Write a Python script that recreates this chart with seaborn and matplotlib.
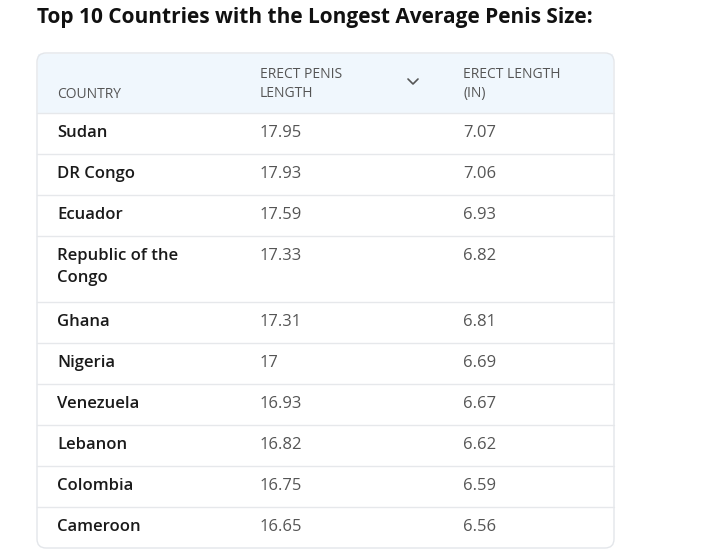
import matplotlib
matplotlib.use("Agg")
import matplotlib.pyplot as plt
import seaborn as sns
from matplotlib.patches import FancyBboxPatch, Rectangle

sns.set_theme(style="white")
plt.rcParams['font.family'] = ['Open Sans', 'DejaVu Sans']

title = "Top 10 Countries with the Longest Average Penis Size:"
headers = ["COUNTRY", "ERECT PENIS\nLENGTH", "ERECT LENGTH\n(IN)"]
countries = ["Sudan", "DR Congo", "Ecuador", "Republic of the\nCongo", "Ghana",
             "Nigeria", "Venezuela", "Lebanon", "Colombia", "Cameroon"]
length_cm = ["17.95", "17.93", "17.59", "17.33", "17.31", "17", "16.93", "16.82", "16.75", "16.65"]
length_in = ["7.07", "7.06", "6.93", "6.82", "6.81", "6.69", "6.67", "6.62", "6.59", "6.56"]

fig = plt.figure(figsize=(7.2, 5.58), dpi=100)
ax = fig.add_axes([0, 0, 1, 1])
ax.set_xlim(0, 720); ax.set_ylim(558, 0); ax.axis("off")

ax.text(37, 18, title, fontsize=15, fontweight="bold", color="#111111", va="center", ha="left")

L, R, T, B = 37, 614, 53, 548
ax.add_patch(Rectangle((L + 1, T + 1), R - L - 2, 60, facecolor="#f0f7fd", edgecolor="none"))
ax.add_patch(FancyBboxPatch((L, T), R - L, B - T, boxstyle="round,pad=0,rounding_size=9",
                            facecolor="none", edgecolor="#e3e6ea", lw=1))
colx = [57, 260, 463]
ax.text(colx[0], 94, headers[0], fontsize=10, color="#555555", va="center")
for i in (1, 2):
    ax.text(colx[i], 84, headers[i], fontsize=10, color="#555555", va="center", linespacing=1.3)
ax.plot([408, 413, 418], [79, 84, 79], color="#555555", lw=1.2)

top = 113
for c, a, b in zip(countries, length_cm, length_in):
    h = 66 if "\n" in c else 41
    ax.plot([L, R], [top, top], color="#e6e8eb", lw=1)
    ax.text(colx[0], top + 12, c, fontsize=12, fontweight="semibold", color="#1a1a1a",
            va="top", linespacing=1.5)
    ax.text(colx[1], top + 12, a, fontsize=12, color="#555555", va="top")
    ax.text(colx[2], top + 12, b, fontsize=12, color="#555555", va="top")
    top += h

fig.savefig("out.png", dpi=100)
